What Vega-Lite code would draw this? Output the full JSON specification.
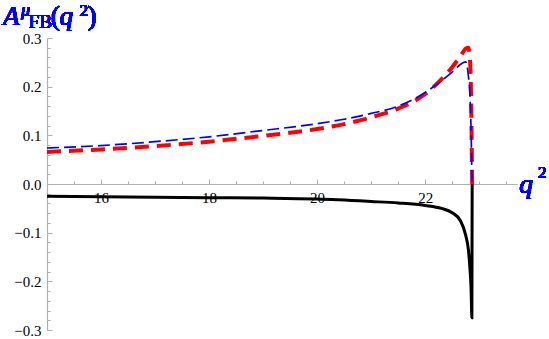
{
  "$schema": "https://vega.github.io/schema/vega-lite/v6.json",
  "width": 470,
  "height": 292,
  "autosize": {"type": "none"},
  "padding": {"left": 47, "top": 38, "right": 32, "bottom": 9},
  "background": "white",
  "config": {"view": {"stroke": null}, "font": "Liberation Serif"},
  "datasets": {
    "curves": [
      {"q": 15.0, "A": -0.025, "s": "black"},
      {"q": 16.0, "A": -0.026, "s": "black"},
      {"q": 17.0, "A": -0.027, "s": "black"},
      {"q": 18.0, "A": -0.028, "s": "black"},
      {"q": 19.0, "A": -0.029, "s": "black"},
      {"q": 20.0, "A": -0.031, "s": "black"},
      {"q": 21.0, "A": -0.036, "s": "black"},
      {"q": 21.5, "A": -0.039, "s": "black"},
      {"q": 22.0, "A": -0.044, "s": "black"},
      {"q": 22.3, "A": -0.05, "s": "black"},
      {"q": 22.5, "A": -0.059, "s": "black"},
      {"q": 22.65, "A": -0.075, "s": "black"},
      {"q": 22.75, "A": -0.105, "s": "black"},
      {"q": 22.8, "A": -0.135, "s": "black"},
      {"q": 22.83, "A": -0.175, "s": "black"},
      {"q": 22.85, "A": -0.215, "s": "black"},
      {"q": 22.865, "A": -0.275, "s": "black"},
      {"q": 22.87, "A": 0.0, "s": "black"},
      {"q": 15.0, "A": 0.066, "s": "red"},
      {"q": 16.0, "A": 0.071, "s": "red"},
      {"q": 17.0, "A": 0.078, "s": "red"},
      {"q": 18.0, "A": 0.087, "s": "red"},
      {"q": 19.0, "A": 0.099, "s": "red"},
      {"q": 20.0, "A": 0.113, "s": "red"},
      {"q": 20.5, "A": 0.123, "s": "red"},
      {"q": 21.0, "A": 0.137, "s": "red"},
      {"q": 21.5, "A": 0.155, "s": "red"},
      {"q": 22.0, "A": 0.185, "s": "red"},
      {"q": 22.3, "A": 0.215, "s": "red"},
      {"q": 22.5, "A": 0.24, "s": "red"},
      {"q": 22.65, "A": 0.262, "s": "red"},
      {"q": 22.75, "A": 0.278, "s": "red"},
      {"q": 22.8, "A": 0.28, "s": "red"},
      {"q": 22.83, "A": 0.255, "s": "red"},
      {"q": 22.85, "A": 0.18, "s": "red"},
      {"q": 22.865, "A": 0.05, "s": "red"},
      {"q": 22.87, "A": 0.0, "s": "red"},
      {"q": 15.0, "A": 0.074, "s": "blue"},
      {"q": 16.0, "A": 0.079, "s": "blue"},
      {"q": 17.0, "A": 0.087, "s": "blue"},
      {"q": 18.0, "A": 0.097, "s": "blue"},
      {"q": 19.0, "A": 0.11, "s": "blue"},
      {"q": 20.0, "A": 0.124, "s": "blue"},
      {"q": 20.5, "A": 0.133, "s": "blue"},
      {"q": 21.0, "A": 0.145, "s": "blue"},
      {"q": 21.5, "A": 0.16, "s": "blue"},
      {"q": 22.0, "A": 0.188, "s": "blue"},
      {"q": 22.3, "A": 0.212, "s": "blue"},
      {"q": 22.5, "A": 0.23, "s": "blue"},
      {"q": 22.7, "A": 0.249, "s": "blue"},
      {"q": 22.75, "A": 0.251, "s": "blue"},
      {"q": 22.8, "A": 0.222, "s": "blue"},
      {"q": 22.83, "A": 0.18, "s": "blue"},
      {"q": 22.85, "A": 0.111, "s": "blue"},
      {"q": 22.865, "A": 0.022, "s": "blue"},
      {"q": 22.87, "A": 0.0, "s": "blue"}
    ]
  },
  "data": {"name": "curves"},
  "resolve": {"axis": {"x": "independent", "y": "independent"}},
  "layer": [
    {
      "transform": [{"filter": "datum.s === 'black'"}],
      "mark": {"type": "line", "color": "black", "strokeWidth": 3, "interpolate": "monotone"},
      "encoding": {
        "x": {"field": "q", "type": "quantitative", "scale": {"domain": [15, 23.7], "nice": false, "zero": false},
          "axis": {"orient": "bottom", "offset": -146, "values": [15, 15.5, 16, 16.5, 17, 17.5, 18, 18.5, 19, 19.5, 20, 20.5, 21, 21.5, 22, 22.5, 23, 23.5],
            "labels": false, "title": null, "grid": false, "domain": true, "domainColor": "#b0b0b0", "domainWidth": 1.2,
            "tickColor": "#b0b0b0", "tickSize": -3, "tickWidth": 1, "zindex": 0}},
        "y": {"field": "A", "type": "quantitative", "scale": {"domain": [-0.3, 0.3], "nice": false, "zero": false},
          "axis": {"orient": "left", "values": [-0.3, -0.28, -0.26, -0.24, -0.22, -0.2, -0.18, -0.16, -0.14, -0.12, -0.1, -0.08, -0.06, -0.04, -0.02, 0, 0.02, 0.04, 0.06, 0.08, 0.1, 0.12, 0.14, 0.16, 0.18, 0.2, 0.22, 0.24, 0.26, 0.28, 0.3],
            "labels": false, "title": null, "grid": false, "domain": true, "domainColor": "#b0b0b0", "domainWidth": 1.2,
            "tickColor": "#b0b0b0", "tickSize": -3, "tickWidth": 1, "zindex": 0}}
      }
    },
    {
      "transform": [{"filter": "datum.s === 'red'"}],
      "mark": {"type": "line", "color": "#ff0000", "strokeWidth": 4, "strokeDash": [14, 8], "strokeCap": "butt", "interpolate": "monotone"},
      "encoding": {
        "x": {"field": "q", "type": "quantitative", "scale": {"domain": [15, 23.7], "nice": false, "zero": false},
          "axis": {"orient": "bottom", "offset": -146, "values": [16, 18, 20, 22], "format": "d",
            "labels": true, "title": null, "grid": false, "domain": false,
            "tickColor": "#b0b0b0", "tickSize": -5, "tickWidth": 1, "labelPadding": 11,
            "labelFont": "Liberation Serif", "labelFontSize": 15, "labelFontWeight": "normal", "labelColor": "black", "labelBaseline": "top", "zindex": 0}},
        "y": {"field": "A", "type": "quantitative", "scale": {"domain": [-0.3, 0.3], "nice": false, "zero": false},
          "axis": {"orient": "left", "values": [-0.3, -0.2, -0.1, 0, 0.1, 0.2, 0.3], "format": ".1f",
            "labels": true, "title": null, "grid": false, "domain": false,
            "tickColor": "#b0b0b0", "tickSize": -5, "tickWidth": 1, "labelPadding": 11,
            "labelFont": "Liberation Serif", "labelFontSize": 15, "labelFontWeight": "normal", "labelColor": "black", "zindex": 0}}
      }
    },
    {
      "transform": [{"filter": "datum.s === 'blue'"}],
      "mark": {"type": "line", "color": "#0000ff", "strokeWidth": 1.7, "strokeDash": [12, 5], "strokeCap": "butt", "interpolate": "monotone"},
      "encoding": {
        "x": {"field": "q", "type": "quantitative", "scale": {"domain": [15, 23.7], "nice": false, "zero": false}, "axis": null},
        "y": {"field": "A", "type": "quantitative", "scale": {"domain": [-0.3, 0.3], "nice": false, "zero": false}, "axis": null}
      }
    },
    {
      "mark": {"type": "text", "text": "A", "font": "Liberation Serif", "fontWeight": "normal", "fontSize": 27, "fontStyle": "italic", "color": "#0000ff", "align": "left", "baseline": "alphabetic"},
      "encoding": {"x": {"datum": 14.185, "type": "quantitative", "axis": null}, "y": {"datum": 0.327, "type": "quantitative", "axis": null}}
    },
    {
      "mark": {"type": "text", "text": "μ", "font": "Liberation Serif", "fontWeight": "normal", "fontSize": 18, "fontStyle": "italic", "color": "#0000ff", "align": "left", "baseline": "alphabetic"},
      "encoding": {"x": {"datum": 14.52, "type": "quantitative", "axis": null}, "y": {"datum": 0.345, "type": "quantitative", "axis": null}}
    },
    {
      "mark": {"type": "text", "text": "FB", "font": "Liberation Serif", "fontWeight": "normal", "fontSize": 19, "color": "#0000ff", "align": "left", "baseline": "alphabetic"},
      "encoding": {"x": {"datum": 14.66, "type": "quantitative", "axis": null}, "y": {"datum": 0.321, "type": "quantitative", "axis": null}}
    },
    {
      "mark": {"type": "text", "text": "(", "font": "Liberation Serif", "fontWeight": "normal", "fontSize": 27, "color": "#0000ff", "align": "left", "baseline": "alphabetic"},
      "encoding": {"x": {"datum": 15.07, "type": "quantitative", "axis": null}, "y": {"datum": 0.327, "type": "quantitative", "axis": null}}
    },
    {
      "mark": {"type": "text", "text": "q", "font": "Liberation Serif", "fontWeight": "normal", "fontSize": 27, "fontStyle": "italic", "color": "#0000ff", "align": "left", "baseline": "alphabetic"},
      "encoding": {"x": {"datum": 15.23, "type": "quantitative", "axis": null}, "y": {"datum": 0.327, "type": "quantitative", "axis": null}}
    },
    {
      "mark": {"type": "text", "text": "2", "font": "Liberation Serif", "fontWeight": "normal", "fontSize": 17, "color": "#0000ff", "align": "left", "baseline": "alphabetic"},
      "encoding": {"x": {"datum": 15.6, "type": "quantitative", "axis": null}, "y": {"datum": 0.345, "type": "quantitative", "axis": null}}
    },
    {
      "mark": {"type": "text", "text": ")", "font": "Liberation Serif", "fontWeight": "normal", "fontSize": 27, "color": "#0000ff", "align": "left", "baseline": "alphabetic"},
      "encoding": {"x": {"datum": 15.75, "type": "quantitative", "axis": null}, "y": {"datum": 0.327, "type": "quantitative", "axis": null}}
    },
    {
      "mark": {"type": "text", "text": "q", "font": "Liberation Serif", "fontWeight": "normal", "fontSize": 27, "fontStyle": "italic", "color": "#0000ff", "align": "left", "baseline": "alphabetic"},
      "encoding": {"x": {"datum": 23.741, "type": "quantitative", "axis": null}, "y": {"datum": -0.0186, "type": "quantitative", "axis": null}}
    },
    {
      "mark": {"type": "text", "text": "2", "font": "Liberation Serif", "fontWeight": "normal", "fontSize": 17, "color": "#0000ff", "align": "left", "baseline": "alphabetic"},
      "encoding": {"x": {"datum": 24.09, "type": "quantitative", "axis": null}, "y": {"datum": 0.012, "type": "quantitative", "axis": null}}
    }
  ]
}
